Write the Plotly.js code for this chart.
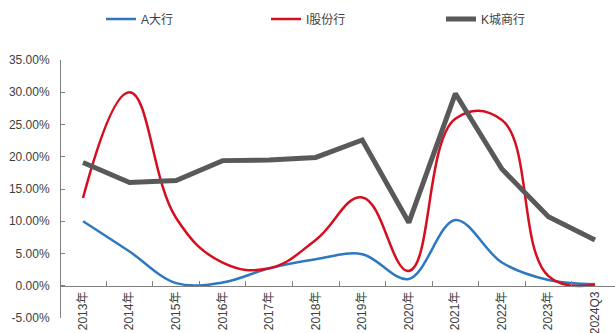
<!DOCTYPE html>
<html>
<head>
<meta charset="utf-8">
<script src="https://cdn.plot.ly/plotly-3.0.1.min.js"></script>
<style>
  html, body { margin: 0; padding: 0; background: #fff; }
  #chart { width: 615px; height: 333px; }
</style>
</head>
<body>
<div id="chart"></div>
<script>
// Period labels along the x axis
const periods = ['2013年', '2014年', '2015年', '2016年', '2017年', '2018年',
                 '2019年', '2020年', '2021年', '2022年', '2023年', '2024Q3'];

// Values in percent, one per period
const bigBanks   = [10.0, 5.3, 0.4, 0.5, 2.7, 4.1, 4.9, 1.05, 10.2, 3.6, 0.9, 0.25];
const jointStock = [13.6, 30.0, 10.5, 3.6, 2.7, 7.1, 13.7, 2.3, 25.9, 25.7, 1.5, 0.2];
const cityBanks  = [19.1, 16.0, 16.3, 19.4, 19.5, 19.9, 22.6, 9.8, 29.8, 18.1, 10.7, 7.1];

// Series names
const seriesNames = ['A大行', 'I股份行', 'K城商行'];

// Y axis ticks
const yTicks = [-5, 0, 5, 10, 15, 20, 25, 30, 35];
const yTickText = yTicks.map(v => v.toFixed(2) + '%');

const FONT = 'Liberation Sans, Arial, "Noto Sans CJK SC", sans-serif';
const TEXT_COLOR = '#404040';
const AXIS_COLOR = '#7f7f7f';

const traces = [
  {
    x: periods, y: bigBanks, name: seriesNames[0], type: 'scatter', mode: 'lines',
    line: { color: '#2e78c0', width: 2.5, shape: 'spline', smoothing: 1 },
    legend: 'legend'
  },
  {
    x: periods, y: jointStock, name: seriesNames[1], type: 'scatter', mode: 'lines',
    line: { color: '#d50e20', width: 2.5, shape: 'spline', smoothing: 1.2 },
    legend: 'legend2'
  },
  {
    x: periods, y: cityBanks, name: seriesNames[2], type: 'scatter', mode: 'lines',
    line: { color: '#595959', width: 5 },
    legend: 'legend3'
  }
];

const legendBase = {
  orientation: 'h', xref: 'container', yref: 'container',
  xanchor: 'left', yanchor: 'middle', y: 1 - 19 / 333,
  font: { family: FONT, size: 12, color: TEXT_COLOR },
  bgcolor: 'rgba(0,0,0,0)', itemwidth: 30, tracegroupgap: 0
};

const layout = {
  width: 615, height: 333,
  margin: { l: 61, r: 0, t: 60, b: 15, pad: 0 },
  paper_bgcolor: '#ffffff', plot_bgcolor: '#ffffff',
  font: { family: FONT, size: 12, color: TEXT_COLOR },
  showlegend: true,
  legend:  Object.assign({}, legendBase, { x: 101 / 615 }),
  legend2: Object.assign({}, legendBase, { x: 266 / 615 }),
  legend3: Object.assign({}, legendBase, { x: 441 / 615 }),
  xaxis: {
    type: 'category',
    categoryorder: 'array', categoryarray: periods,
    range: [-0.473, 11.43],
    anchor: 'free', position: 5 / 40,
    showline: true, linecolor: AXIS_COLOR, linewidth: 1,
    ticks: 'inside', ticklen: 5, tickcolor: AXIS_COLOR, tickwidth: 1,
    tickson: 'boundaries',
    tickangle: -90,
    tickfont: { family: FONT, size: 12, color: TEXT_COLOR },
    showgrid: false, zeroline: false, automargin: false
  },
  yaxis: {
    range: [-5, 35],
    tickmode: 'array', tickvals: yTicks, ticktext: yTickText,
    showline: true, linecolor: AXIS_COLOR, linewidth: 1,
    ticks: 'inside', ticklen: 4, tickcolor: AXIS_COLOR, tickwidth: 1,
    ticklabelstandoff: 8,
    tickfont: { family: FONT, size: 12, color: TEXT_COLOR },
    showgrid: false, zeroline: false, automargin: false
  }
};

Plotly.newPlot('chart', traces, layout, { staticPlot: true, displayModeBar: false });
</script>
</body>
</html>
